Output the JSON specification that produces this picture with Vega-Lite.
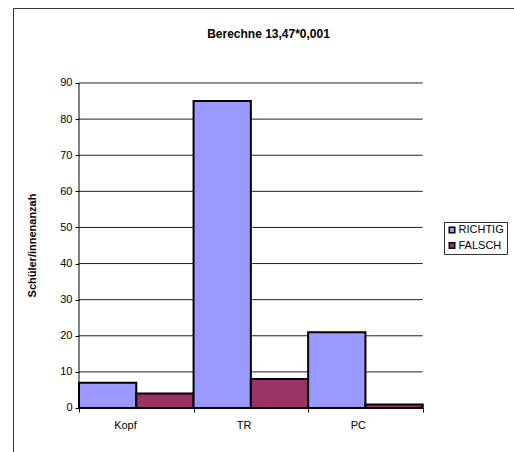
{
  "$schema": "https://vega.github.io/schema/vega-lite/v6.json",
  "autosize": "none",
  "padding": {"left": 13, "top": 8, "right": 0, "bottom": 0},
  "width": 511,
  "height": 454,
  "background": "white",
  "title": {
    "text": "Berechne 13,47*0,001",
    "font": "Liberation Sans",
    "fontSize": 12,
    "fontWeight": "bold",
    "color": "black",
    "anchor": "middle",
    "baseline": "alphabetic",
    "offset": -42
  },
  "config": {
    "view": {"stroke": "#333333", "strokeWidth": 1},
    "font": "Liberation Sans"
  },
  "datasets": {
    "answers": [
      {"Methode": "Kopf", "Antwort": "RICHTIG", "Anzahl": 7},
      {"Methode": "Kopf", "Antwort": "FALSCH", "Anzahl": 4},
      {"Methode": "TR", "Antwort": "RICHTIG", "Anzahl": 85},
      {"Methode": "TR", "Antwort": "FALSCH", "Anzahl": 8},
      {"Methode": "PC", "Antwort": "RICHTIG", "Anzahl": 21},
      {"Methode": "PC", "Antwort": "FALSCH", "Anzahl": 1}
    ],
    "gridValues": [
      {"v": 0}, {"v": 10}, {"v": 20}, {"v": 30}, {"v": 40},
      {"v": 50}, {"v": 60}, {"v": 70}, {"v": 80}, {"v": 90}
    ]
  },
  "layer": [
    {
      "data": {"name": "gridValues"},
      "mark": {"type": "rule", "color": "#222222", "strokeWidth": 1},
      "encoding": {
        "x": {"datum": "Kopf", "type": "nominal", "bandPosition": 0},
        "x2": {"datum": "PC", "bandPosition": 1},
        "y": {"field": "v", "type": "quantitative"}
      }
    },
    {
      "data": {"name": "answers"},
      "mark": {"type": "bar", "stroke": "black", "strokeWidth": 2, "opacity": 1},
      "encoding": {
        "x": {
          "field": "Methode",
          "type": "nominal",
          "scale": {
            "domain": ["Kopf", "TR", "PC"],
            "paddingInner": 0,
            "paddingOuter": 0.73,
            "align": 0.3945
          },
          "axis": {
            "title": null,
            "orient": "bottom",
            "offset": -54,
            "domain": false,
            "grid": false,
            "ticks": true,
            "tickBand": "extent",
            "tickSize": 4,
            "tickColor": "black",
            "labelAngle": 0,
            "labelPadding": 13,
            "labelFont": "Liberation Sans",
            "labelFontSize": 11,
            "labelColor": "black"
          }
        },
        "xOffset": {
          "field": "Antwort",
          "type": "nominal",
          "sort": ["RICHTIG", "FALSCH"],
          "scale": {"paddingInner": 0, "paddingOuter": 0}
        },
        "y": {
          "field": "Anzahl",
          "type": "quantitative",
          "scale": {"domain": [-14.954, 110.769], "nice": false, "zero": false},
          "axis": {
            "title": "Schüler/innenanzah",
            "titleFont": "Liberation Sans",
            "titleFontSize": 11,
            "titleFontWeight": "bold",
            "titleColor": "black",
            "titlePadding": 22,
            "titleY": 237,
            "offset": -66,
            "values": [0, 10, 20, 30, 40, 50, 60, 70, 80, 90],
            "domain": false,
            "grid": false,
            "ticks": true,
            "tickSize": 4,
            "tickColor": "black",
            "labelPadding": 3,
            "labelFont": "Liberation Sans",
            "labelFontSize": 11,
            "labelColor": "black"
          }
        },
        "y2": {"datum": 0},
        "color": {
          "field": "Antwort",
          "type": "nominal",
          "scale": {"domain": ["RICHTIG", "FALSCH"], "range": ["#9999FF", "#993366"]},
          "legend": {
            "title": null,
            "orient": "none",
            "legendX": 431,
            "legendY": 214,
            "padding": 2.5,
            "strokeColor": "#333333",
            "fillColor": "white",
            "symbolType": "square",
            "symbolSize": 30,
            "symbolStrokeColor": "black",
            "symbolStrokeWidth": 1.5,
            "symbolOpacity": 1,
            "labelFont": "Liberation Sans",
            "labelFontSize": 11,
            "labelColor": "black",
            "labelOffset": 1,
            "rowPadding": 2.5
          }
        }
      }
    },
    {
      "data": {"values": [{}]},
      "mark": {"type": "rule", "color": "black", "strokeWidth": 1},
      "encoding": {
        "x": {"datum": "Kopf", "type": "nominal", "bandPosition": 0},
        "y": {"datum": 0, "type": "quantitative"},
        "y2": {"datum": 90}
      }
    }
  ]
}
